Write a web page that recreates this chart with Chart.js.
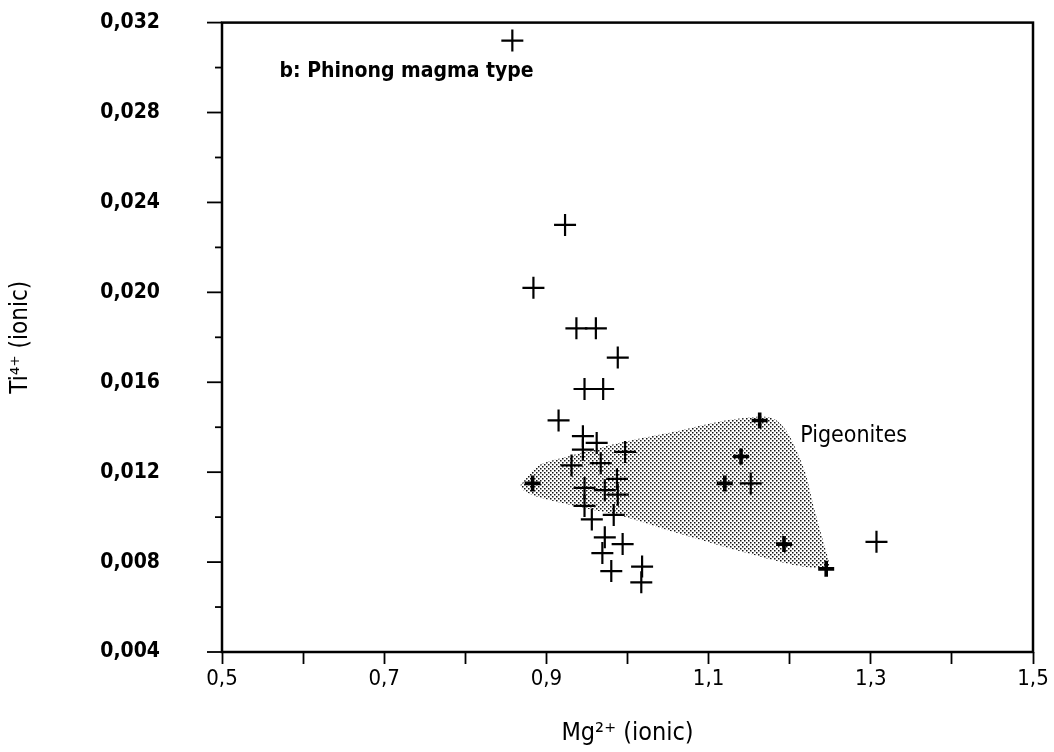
<!DOCTYPE html>
<html>
<head>
<meta charset="utf-8">
<script src="https://cdn.jsdelivr.net/npm/chart.js@4.4.1/dist/chart.umd.min.js"></script>
<style>
  html, body { margin: 0; padding: 0; background: #fff; }
  #wrap { width: 1054px; height: 752px; }
</style>
</head>
<body>
<div id="wrap"><canvas id="chart" width="1054" height="752"></canvas></div>
<script>
// ---------- DATA ----------
// ordinary crosses (Mg2+, Ti4+ ionic)
const mgValues = [0.858, 0.923, 0.884, 0.937, 0.961, 0.988, 0.947, 0.970, 0.915, 0.945,
                  0.962, 0.945, 0.997, 0.931, 0.967, 0.947, 0.987, 0.972, 0.988, 0.947,
                  0.956, 0.983, 0.972, 0.994, 0.969, 0.980, 1.018, 1.017, 1.152, 1.307];
const tiValues = [0.0312, 0.0230, 0.0202, 0.0184, 0.0184, 0.0171, 0.0157, 0.0157, 0.0143, 0.0136,
                  0.0133, 0.0130, 0.0129, 0.0123, 0.0124, 0.0113, 0.0117, 0.0112, 0.0110, 0.0105,
                  0.0099, 0.0101, 0.0091, 0.0088, 0.0084, 0.0076, 0.0078, 0.0071, 0.0115, 0.0089];

// heavy crosses
const boldMg = [0.883, 1.163, 1.140, 1.120, 1.193, 1.245];
const boldTi = [0.0115, 0.0143, 0.0127, 0.0115, 0.0088, 0.0077];

// pigeonite field outline
const pigeoniteMg = [0.868, 0.890, 0.932, 0.993, 1.055, 1.116, 1.160, 1.181, 1.197, 1.209, 1.220,
                     1.230, 1.242, 1.248, 1.218, 1.177, 1.116, 1.055, 0.993, 0.932, 0.890, 0.871, 0.868];
const pigeoniteTi = [0.01143, 0.01229, 0.01275, 0.01333, 0.01378, 0.01427, 0.01447, 0.01437, 0.01379,
                     0.01291, 0.01190, 0.01041, 0.00883, 0.00778, 0.00779, 0.00812, 0.00872, 0.00936,
                     0.01005, 0.01052, 0.01089, 0.01121, 0.01143];

// axis ticks
const xMajor = [0.5, 0.7, 0.9, 1.1, 1.3, 1.5];
const xTickLabels = ['0,5', '0,7', '0,9', '1,1', '1,3', '1,5'];
const yMajor = [0.004, 0.008, 0.012, 0.016, 0.020, 0.024, 0.028, 0.032];
const yTickLabels = ['0,004', '0,008', '0,012', '0,016', '0,020', '0,024', '0,028', '0,032'];

const FONT = "'DejaVu Sans Condensed', 'DejaVu Sans', sans-serif";

function majorIndex(list, v) {
    return list.findIndex(m => Math.abs(m - v) < 1e-9);
}

// halftone dot pattern for the shaded field
function dotPattern() {
    const c = document.createElement('canvas');
    c.width = 4; c.height = 4;
    const g = c.getContext('2d');
    g.fillStyle = '#111';
    g.fillRect(0, 0, 1.5, 1.5);
    g.fillRect(2, 2, 1.5, 1.5);
    return g.createPattern(c, 'repeat');
}

// ---------- FRAME, MINOR TICKS, LABELS ----------
const framePlugin = {
    id: 'frame',
    afterDatasetsDraw(chart) {
        const { ctx, chartArea: a, scales: { x, y } } = chart;
        ctx.save();
        ctx.strokeStyle = '#000';
        ctx.lineWidth = 2.5;
        ctx.strokeRect(a.left, a.top, a.right - a.left, a.bottom - a.top);

        ctx.lineWidth = 1.8;
        y.ticks.forEach(t => {
            const py = y.getPixelForValue(t.value);
            const len = majorIndex(yMajor, t.value) >= 0 ? 15 : 7;
            ctx.beginPath(); ctx.moveTo(a.left - len, py); ctx.lineTo(a.left, py); ctx.stroke();
        });

        ctx.fillStyle = '#000';
        ctx.textBaseline = 'alphabetic';
        ctx.font = '600 21px ' + FONT;
        ctx.fillText('b: Phinong magma type', x.getPixelForValue(0.571), y.getPixelForValue(0.0296));
        ctx.font = '23px ' + FONT;
        ctx.fillText('Pigeonites', x.getPixelForValue(1.213), y.getPixelForValue(0.01333));
        ctx.restore();
    }
};

// ---------- CHART ----------
const ctx = document.getElementById('chart').getContext('2d');
new Chart(ctx, {
    type: 'scatter',
    data: {
        datasets: [
            {
                label: 'Ti4+',
                data: mgValues.map((v, i) => ({ x: v, y: tiValues[i] })),
                pointStyle: 'cross',
                pointRadius: 11,
                pointHoverRadius: 11,
                borderColor: '#000',
                borderWidth: 2.2,
                order: 1
            },
            {
                label: 'Ti4+ heavy',
                data: boldMg.map((v, i) => ({ x: v, y: boldTi[i] })),
                pointStyle: 'cross',
                pointRadius: 8,
                pointHoverRadius: 8,
                borderColor: '#000',
                borderWidth: 3.6,
                order: 1
            },
            {
                type: 'line',
                label: 'Pigeonites',
                data: pigeoniteMg.map((v, i) => ({ x: v, y: pigeoniteTi[i] })),
                backgroundColor: dotPattern(),
                borderWidth: 0,
                pointRadius: 0,
                tension: 0.25,
                fill: 'shape',
                order: 3
            }
        ]
    },
    options: {
        responsive: false,
        animation: false,
        layout: { padding: { top: 19, right: 21, left: 0, bottom: 0 } },
        plugins: {
            legend: { display: false },
            tooltip: { enabled: false }
        },
        scales: {
            x: {
                type: 'linear',
                min: 0.5,
                max: 1.5,
                afterFit: s => { s.height = 100; },
                border: { display: false },
                grid: { display: true, drawOnChartArea: false, tickLength: 12, tickWidth: 1.8, tickColor: '#000' },
                ticks: {
                    stepSize: 0.1,
                    autoSkip: false,
                    maxRotation: 0,
                    padding: 2,
                    color: '#000',
                    font: { family: FONT, size: 22 },
                    callback: v => {
                        const i = majorIndex(xMajor, v);
                        return i >= 0 ? xTickLabels[i] : '';
                    }
                },
                title: {
                    display: true,
                    text: 'Mg²⁺ (ionic)',
                    color: '#000',
                    font: { family: FONT, size: 25 },
                    padding: { top: 0, bottom: 4 }
                }
            },
            y: {
                type: 'linear',
                min: 0.004,
                max: 0.032,
                afterFit: s => { s.width = 222; },
                border: { display: false },
                // invisible long tick marks only push the labels away from the axis
                grid: { display: true, drawOnChartArea: false, drawTicks: true, tickLength: 52, tickColor: 'rgba(0,0,0,0)' },
                ticks: {
                    stepSize: 0.002,
                    maxTicksLimit: 30,
                    autoSkip: false,
                    padding: 10,
                    color: '#000',
                    font: { family: FONT, size: 21, weight: '600' },
                    callback: v => {
                        const i = majorIndex(yMajor, v);
                        return i >= 0 ? yTickLabels[i] : '';
                    }
                },
                title: {
                    display: true,
                    text: 'Ti⁴⁺ (ionic)',
                    color: '#000',
                    font: { family: FONT, size: 24 },
                    padding: { top: 6, bottom: 0 }
                }
            }
        }
    },
    plugins: [framePlugin]
});
</script>
</body>
</html>
